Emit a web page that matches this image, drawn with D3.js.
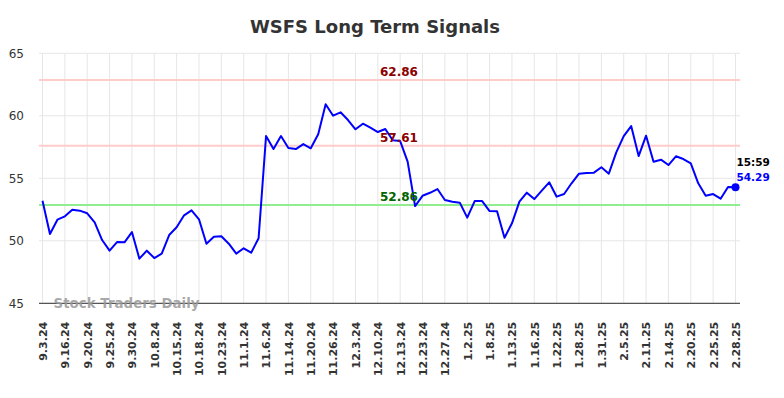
<!DOCTYPE html>
<html lang="en">
<head>
    <meta charset="UTF-8">
    <title>WSFS Long Term Signals</title>
    <style>
        body { margin: 0; background: #fff; }
        #chart { width: 784px; height: 398px; }
        svg { font-family: "DejaVu Sans", sans-serif; }
    </style>
    <script src="https://cdnjs.cloudflare.com/ajax/libs/d3/7.8.5/d3.min.js"></script>
</head>
<body>
    <div id="chart"></div>
    <script>
        // Tick labels, one every 3 trading days
        const tickLabels = ["9.3.24", "9.16.24", "9.20.24", "9.25.24", "9.30.24", "10.8.24", "10.15.24", "10.18.24",
            "10.23.24", "11.1.24", "11.6.24", "11.14.24", "11.20.24", "11.26.24", "12.3.24", "12.10.24", "12.13.24",
            "12.23.24", "12.27.24", "1.2.25", "1.8.25", "1.13.25", "1.16.25", "1.22.25", "1.28.25", "1.31.25",
            "2.5.25", "2.11.25", "2.14.25", "2.20.25", "2.25.25", "2.28.25"];

        // Closing prices
        const values = [53.2, 50.54, 51.69, 51.96, 52.49, 52.41, 52.2, 51.48, 50.06, 49.21,
            49.9, 49.88, 50.7, 48.57, 49.21, 48.62, 48.97, 50.46, 51.08, 52.04,
            52.44, 51.72, 49.77, 50.33, 50.36, 49.77, 48.97, 49.4, 49.05, 50.2,
            58.38, 57.34, 58.38, 57.42, 57.34, 57.74, 57.4, 58.52, 60.92, 60.01,
            60.28, 59.66, 58.92, 59.37, 59.05, 58.7, 58.94, 58.04, 57.98, 56.33,
            52.78, 53.6, 53.84, 54.14, 53.26, 53.13, 53.05, 51.85, 53.18, 53.18,
            52.38, 52.36, 50.25, 51.4, 53.13, 53.85, 53.34, 54.01, 54.68, 53.53,
            53.74, 54.6, 55.37, 55.42, 55.45, 55.88, 55.37, 57.08, 58.38, 59.18,
            56.78, 58.41, 56.33, 56.49, 56.06, 56.76, 56.54, 56.2, 54.6, 53.61,
            53.74, 53.37, 54.3, 54.29];

        // Signal levels
        const levelValues = [62.86, 57.61, 52.86];
        const levelKinds = ["resistance", "resistance", "support"];

        const yTicks = [45, 50, 55, 60, 65];
        const lastTime = "15:59";

        const width = 784, height = 398;
        const plot = { left: 39, right: 740, top: 53.3, bottom: 303.3 };

        const svg = d3.select("#chart").append("svg")
            .attr("width", width)
            .attr("height", height);

        const idx = d3.range(values.length);
        const x = d3.scalePoint()
            .domain(idx)
            .range([42.5, 735.5]);

        const y = d3.scaleLinear()
            .domain([45, 65])
            .range([plot.bottom, plot.top]);

        const tickIdx = tickLabels.map((d, i) => i * 3);

        // grid
        svg.append("g")
            .selectAll("line")
            .data(yTicks)
            .join("line")
            .attr("x1", plot.left).attr("x2", plot.right)
            .attr("y1", d => y(d)).attr("y2", d => y(d))
            .attr("stroke", "#e6e6e6").attr("stroke-width", 1);

        svg.append("g")
            .selectAll("line")
            .data(tickIdx)
            .join("line")
            .attr("x1", d => x(d)).attr("x2", d => x(d))
            .attr("y1", plot.top).attr("y2", plot.bottom)
            .attr("stroke", "#e6e6e6").attr("stroke-width", 1);

        // y axis labels
        const yAxis = svg.append("g")
            .attr("transform", `translate(${plot.left},0)`)
            .call(d3.axisLeft(y).tickValues(yTicks).tickSize(0).tickPadding(15));
        yAxis.select(".domain").remove();
        yAxis.selectAll("text")
            .attr("font-family", "DejaVu Sans")
            .attr("font-size", 12)
            .attr("fill", "#333");

        // x axis
        const xAxis = svg.append("g")
            .attr("transform", `translate(0,${plot.bottom})`)
            .call(d3.axisBottom(x)
                .tickValues(tickIdx)
                .tickFormat((d, i) => tickLabels[i])
                .tickSize(0));
        xAxis.select(".domain")
            .attr("d", `M${plot.left},0H${plot.right}`)
            .attr("stroke", "#555").attr("stroke-width", 1.2);
        xAxis.selectAll("text")
            .attr("font-family", "DejaVu Sans")
            .attr("font-weight", "bold")
            .attr("font-size", 11)
            .attr("fill", "#333")
            .attr("text-anchor", "end")
            .attr("transform", "rotate(-90)")
            .attr("x", -18.5)
            .attr("y", 0)
            .attr("dy", "0.35em");

        // levels
        const levels = levelValues.map((v, i) => ({ value: v, kind: levelKinds[i] }));
        svg.append("g")
            .selectAll("line")
            .data(levels)
            .join("line")
            .attr("x1", plot.left).attr("x2", plot.right)
            .attr("y1", d => y(d.value)).attr("y2", d => y(d.value))
            .attr("stroke", d => d.kind === "support" ? "#90ee90" : "#ffcccc")
            .attr("stroke-width", 2);

        // watermark
        svg.append("text")
            .attr("x", 53.5).attr("y", 307.5)
            .attr("font-family", "DejaVu Sans")
            .attr("font-weight", "bold")
            .attr("font-size", 13.4)
            .attr("fill", "#999")
            .attr("fill-opacity", 0.85)
            .text("Stock Traders Daily");

        // price line
        const line = d3.line()
            .x((d, i) => x(i))
            .y(d => y(d));

        svg.append("path")
            .datum(values)
            .attr("fill", "none")
            .attr("stroke", "#0000ff")
            .attr("stroke-width", 2)
            .attr("stroke-linejoin", "round")
            .attr("d", line);

        // level labels
        svg.append("g")
            .selectAll("text")
            .data(levels)
            .join("text")
            .attr("x", 380)
            .attr("y", d => y(d.value) - 4)
            .attr("font-family", "DejaVu Sans")
            .attr("font-weight", "bold")
            .attr("font-size", 12)
            .attr("fill", d => d.kind === "support" ? "#006400" : "#8b0000")
            .text(d => d.value.toFixed(2));

        // last point
        const last = values.length - 1;
        svg.append("circle")
            .attr("cx", x(last)).attr("cy", y(values[last]))
            .attr("r", 4)
            .attr("fill", "#0000ff");

        svg.append("text")
            .attr("x", x(last) + 1).attr("y", y(values[last]) - 21)
            .attr("font-family", "DejaVu Sans")
            .attr("font-weight", "bold")
            .attr("font-size", 10.5)
            .attr("fill", "#000")
            .text(lastTime);

        svg.append("text")
            .attr("x", x(last) + 1).attr("y", y(values[last]) - 6)
            .attr("font-family", "DejaVu Sans")
            .attr("font-weight", "bold")
            .attr("font-size", 10.5)
            .attr("fill", "#0000ff")
            .text(values[last].toFixed(2));

        // title
        svg.append("text")
            .attr("x", 375).attr("y", 32.5)
            .attr("text-anchor", "middle")
            .attr("font-family", "DejaVu Sans")
            .attr("font-weight", "bold")
            .attr("font-size", 18)
            .attr("fill", "#333")
            .text("WSFS Long Term Signals");
    </script>
</body>
</html>
